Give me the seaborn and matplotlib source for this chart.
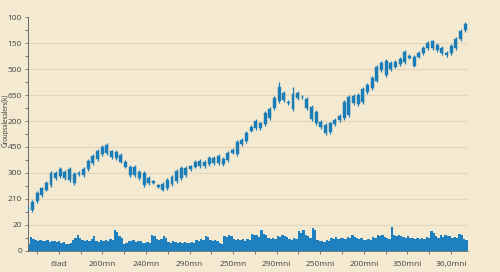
import matplotlib
matplotlib.use("Agg")
import matplotlib.pyplot as plt
import seaborn as sns
import numpy as np
import pandas as pd

# ---------------- data ----------------
opens = [159,156,191,214,234,253,280,288,280,272,
         295,295,292,315,338,353,373,377,384,382,
         369,343,324,292,304,299,280,262,252,234,
         241,257,268,280,292,315,324,326,326,334,
         338,338,353,350,378,373,411,423,463,472,
         491,489,511,549,579,610,575,545,588,594,
         584,553,536,498,485,457,487,504,511,523,
         569,565,572,613,627,656,697,732,701,710,
         719,727,752,746,749,762,781,781,794,781,
         762,762,781,817,852]
closes = [165,188,222,241,261,299,300,315,304,315,
          261,301,315,347,365,385,400,407,362,357,
          343,324,292,324,280,253,261,267,246,257,
          272,285,307,319,319,326,343,346,343,357,
          357,365,334,378,388,420,427,455,478,501,
          472,530,546,588,630,581,569,605,610,592,
          549,507,491,478,453,491,504,521,575,594,
          597,601,624,639,667,710,725,678,725,729,
          740,766,745,714,762,783,800,807,774,762,
          755,791,817,848,874]
highs = [170,195,228,247,268,306,306,322,310,322,
         302,306,322,355,372,392,407,414,390,388,
         375,350,332,330,312,306,287,272,258,263,
         279,292,314,326,326,332,350,352,350,364,
         364,372,360,385,394,428,434,462,484,508,
         498,537,553,596,652,617,581,633,617,600,
         591,560,543,505,492,498,510,528,582,601,
         604,608,631,646,674,717,732,740,732,736,
         747,773,759,753,769,790,807,814,801,788,
         769,798,824,855,881]
lows = [154,150,184,208,228,246,273,281,273,265,
        254,289,285,308,331,346,366,370,355,350,
        336,317,285,285,273,246,254,256,240,228,
        234,250,261,273,285,308,317,320,320,327,
        331,331,327,343,371,366,404,416,456,465,
        465,482,504,541,571,574,562,537,581,585,
        541,500,484,471,446,450,480,497,504,516,
        562,558,565,606,620,649,690,670,694,703,
        712,720,738,707,742,755,774,774,767,755,
        748,755,774,810,845]

volumes = [19,26, 52,45, 39,35,39, 37,35,39,33,37,35, 32,35,30,32, 26,24,28,
           39,50,58,48, 39,35,41,35,43, 56, 37,32,39,35, 41,37,43,39, 78,70,
           56,50, 24,30, 37,35,39,33,37,35, 30,28,32,29, 60,55, 43,39,45, 56,48,
           33,30,35,32,30,33,29,32,30, 28,32,30, 39,35,43,41, 56,52, 39,35,41,37,
           30,26, 56,52, 61,55, 43,39,45,41,43,37,45,41, 65,58, 58,52, 81, 65,60,
           48,45,50,43, 56,52, 58,56,52, 45,41,47,43, 74,68, 78,60, 56,50, 87,80,
           39,35, 37,33,39,35, 48,45,52,43,47, 50,45,52,47, 58,52, 50,45,48,
           41,39,43,40, 52,48, 61,56,58,52, 50,45, 90, 58,55, 61,56, 52,48,55,50,
           47,43,48,45,50,46, 52,48, 74,68, 55,50,58,52, 61,56, 56,50,52,48,
           65,60, 45,40]

x_tick_labels = ['6lad', '260mn', '240mn', '290mn', '250mn',
                 '290mni', '250mni', '200mni', '350mni', '36,0mni']
y_tick_labels = ['0', '20', '210', '300', '450', '200', '650', '500', '150', '100']
y_label = 'Groupsalesalers(k)'

# ---------------- style ----------------
BG = '#f4e9d1'
GRID = '#e2d6bb'
BLUE = '#1b7db8'
VOL = '#1f80bf'
TXT = '#444444'

sns.set_theme(style='ticks')
plt.rcParams['font.family'] = ['Open Sans', 'DejaVu Sans']

fig = plt.figure(figsize=(5.0, 2.72), dpi=100, facecolor=BG)
ax = fig.add_axes([0.055, 0.079, 0.881, 0.857])
ax.set_facecolor(BG)

df = pd.DataFrame({'open': opens, 'close': closes, 'high': highs, 'low': lows})
df['idx'] = np.arange(len(df))
vdf = pd.DataFrame({'vol': volumes})
vdf['pos'] = (np.arange(len(vdf)) - 0.5) / 2.0

# volume bars
ax.bar(vdf['pos'], vdf['vol'], width=0.5, bottom=0, color=VOL,
       linewidth=0, zorder=2)

# candles
body_lo = df[['open', 'close']].min(axis=1)
body_hi = df[['open', 'close']].max(axis=1)
ax.vlines(df['idx'], df['low'], df['high'], color=BLUE, linewidth=0.9, zorder=3)
ax.bar(df['idx'], body_hi - body_lo, bottom=body_lo, width=0.64,
       color=BLUE, edgecolor=BLUE, linewidth=0.3, zorder=4)

# axes limits & ticks
ax.set_xlim(-0.05, 94.6)
ax.set_ylim(0, 900)
major_x = [6.7 + 9.36 * k for k in range(len(x_tick_labels))]
minor_x = [2.0 + 9.36 * k for k in range(len(x_tick_labels))]
ax.set_xticks(major_x)
ax.set_xticklabels(x_tick_labels)
ax.set_xticks(minor_x, minor=True)
yt = [100 * k for k in range(len(y_tick_labels))]
ax.set_yticks(yt)
ax.set_yticklabels(y_tick_labels)
ax.set_yticks([50 + 100 * k for k in range(len(y_tick_labels) - 1)], minor=True)

ax.tick_params(axis='both', which='both', direction='out', length=2.5,
               width=0.6, color='#666666', labelsize=6, labelcolor=TXT, pad=1.5)
ax.tick_params(axis='x', which='major', pad=5)

ax.yaxis.grid(True, color=GRID, linewidth=0.8, zorder=0)
ax.set_axisbelow(True)
gl = ax.get_ygridlines()
gl[-1].set_visible(False)

for s in ['top', 'right']:
    ax.spines[s].set_visible(False)
ax.spines['left'].set_color('#666666')
ax.spines['left'].set_linewidth(0.7)
ax.spines['bottom'].set_color('#666666')
ax.spines['bottom'].set_linewidth(0.6)

ax.set_ylabel(y_label, fontsize=4.8, color=TXT, family=['Lato', 'DejaVu Sans'])
ax.yaxis.set_label_coords(-0.043, 0.56)

fig.savefig('out.png', dpi=100, facecolor=BG)
